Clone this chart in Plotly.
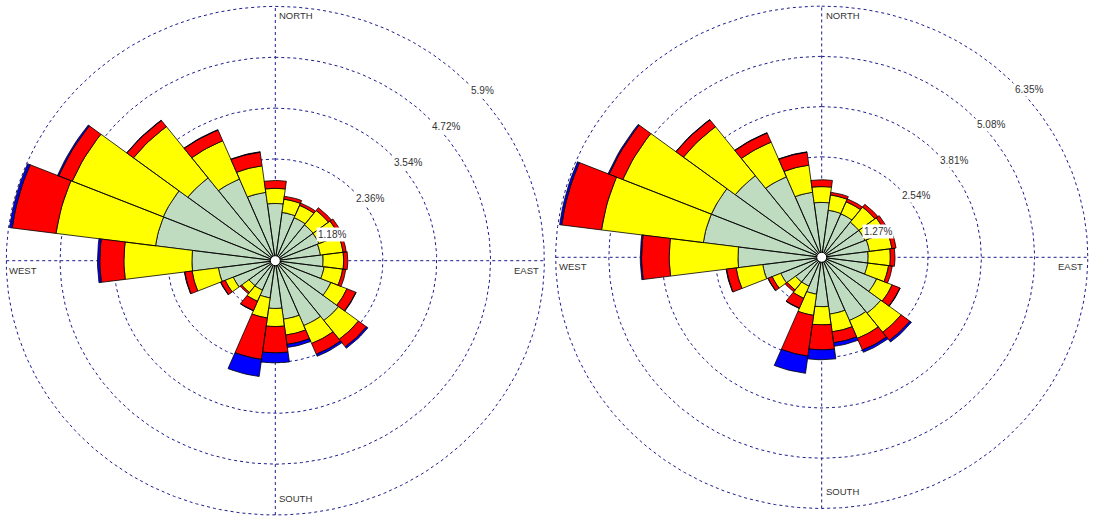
import numpy as np
import plotly.graph_objects as go

# 24 sectors of 15 degrees, compass bearings (clockwise from north)
directions = list(range(0, 360, 15))

# Frequency (%) per speed class, stacked from the centre outwards
left_c1 = [1.33, 1.13, 1.08, 1.05, 1.04, 1.00, 1.05, 1.08, 1.32, 1.75, 1.63, 1.37,
           1.11, 0.87, 0.74, 0.73, 1.00, 1.26, 1.83, 2.65, 2.66, 2.42, 2.05, 1.60]
left_c2 = [0.35, 0.31, 0.31, 0.42, 0.47, 0.50, 0.45, 0.41, 0.38, 0.55, 0.45, 0.37,
           0.42, 0.47, 0.28, 0.20, 0.19, 0.58, 1.49, 2.20, 2.16, 1.50, 0.96, 0.62]
left_c3 = [0.18, 0.07, 0.06, 0.08, 0.08, 0.07, 0.09, 0.07, 0.21, 0.22, 0.27, 0.22,
           0.61, 0.97, 0.23, 0.04, 0.10, 0.16, 0.53, 0.97, 0.32, 0.18, 0.27, 0.32]
left_c4 = [0.00, 0.00, 0.00, 0.00, 0.00, 0.00, 0.00, 0.00, 0.01, 0.04, 0.05, 0.07,
           0.23, 0.40, 0.01, 0.00, 0.01, 0.01, 0.05, 0.06, 0.03, 0.01, 0.01, 0.01]

right_c1 = [1.39, 1.20, 1.19, 1.12, 1.12, 1.15, 1.11, 1.11, 1.42, 1.78, 1.73, 1.45,
            1.25, 0.94, 0.79, 0.79, 1.06, 1.42, 2.00, 2.85, 2.85, 2.60, 2.20, 1.66]
right_c2 = [0.40, 0.39, 0.33, 0.48, 0.52, 0.54, 0.53, 0.50, 0.40, 0.61, 0.49, 0.45,
            0.46, 0.54, 0.33, 0.25, 0.22, 0.64, 1.64, 2.45, 2.29, 1.56, 0.95, 0.69]
right_c3 = [0.17, 0.07, 0.08, 0.09, 0.09, 0.10, 0.11, 0.09, 0.20, 0.26, 0.32, 0.28,
            0.63, 1.04, 0.27, 0.06, 0.10, 0.23, 0.66, 0.96, 0.35, 0.22, 0.25, 0.33]
right_c4 = [0.00, 0.00, 0.00, 0.00, 0.00, 0.00, 0.00, 0.00, 0.01, 0.05, 0.06, 0.09,
            0.25, 0.44, 0.01, 0.00, 0.01, 0.01, 0.03, 0.05, 0.03, 0.01, 0.01, 0.01]

left_rings = [1.18, 2.36, 3.54, 4.72, 5.9]
right_rings = [1.27, 2.54, 3.81, 5.08, 6.35]

class_colors = ["#C0DCC0", "#FFFF00", "#FF0000", "#0000FF"]
grid_color = "#1c1c8c"
text_color = "#333333"
font_family = "Liberation Sans, Arial, sans-serif"

HALF = 7.5  # half sector width in degrees


def sector_xy(bearing, r0, r1, n=9):
    a = np.radians(np.linspace(bearing - HALF, bearing + HALF, n))
    xs = list(r1 * np.sin(a))
    ys = list(r1 * np.cos(a))
    if r0 > 0:
        xs += list(r0 * np.sin(a[::-1]))
        ys += list(r0 * np.cos(a[::-1]))
    else:
        xs.append(0.0)
        ys.append(0.0)
    xs.append(xs[0])
    ys.append(ys[0])
    return xs, ys


def rose_traces(classes, xa, ya):
    traces = []
    base = np.zeros(len(directions))
    for vals, col in zip(classes, class_colors):
        vals = np.asarray(vals)
        X, Y = [], []
        for d, b, v in zip(directions, base, vals):
            if v <= 0:
                continue
            xs, ys = sector_xy(d, b, b + v)
            X += xs + [None]
            Y += ys + [None]
        traces.append(go.Scatter(
            x=X, y=Y, mode="lines", fill="toself", fillcolor=col,
            line=dict(color="#000000", width=0.8),
            xaxis=xa, yaxis=ya, hoverinfo="skip", showlegend=False))
        base = base + vals
    return traces


def grid_trace(rings, xa, ya):
    X, Y = [], []
    t = np.radians(np.linspace(0, 360, 361))
    for r in rings:
        X += list(r * np.sin(t)) + [None]
        Y += list(r * np.cos(t)) + [None]
    R = rings[-1]
    X += [0, 0, None, -R, R, None]
    Y += [-R, R, None, 0, 0, None]
    return go.Scatter(x=X, y=Y, mode="lines",
                      line=dict(color=grid_color, width=1, dash="3px,3px"),
                      xaxis=xa, yaxis=ya, hoverinfo="skip", showlegend=False)


def rose_annotations(rings, xa, ya):
    anns = []
    c45 = np.cos(np.radians(45))
    for r in rings:
        anns.append(dict(x=r * c45, y=r * c45, xref=xa, yref=ya, text=f"{r:g}%",
                         showarrow=False, xanchor="left", yanchor="middle",
                         xshift=3, yshift=-9.5, bgcolor="white", borderpad=1,
                         font=dict(size=10, color=text_color, family=font_family)))
    R = rings[-1]
    f = dict(size=9.5, color=text_color, family=font_family)
    anns += [
        dict(x=0, y=R, xref=xa, yref=ya, text="NORTH", showarrow=False,
             xanchor="left", yanchor="top", xshift=2, yshift=-2, font=f),
        dict(x=0, y=-R, xref=xa, yref=ya, text="SOUTH", showarrow=False,
             xanchor="left", yanchor="bottom", xshift=2, yshift=9, font=f),
        dict(x=R, y=0, xref=xa, yref=ya, text="EAST", showarrow=False,
             xanchor="right", yanchor="top", xshift=-3, yshift=-2, font=f),
        dict(x=-R, y=0, xref=xa, yref=ya, text="WEST", showarrow=False,
             xanchor="left", yanchor="top", xshift=1, yshift=-2, font=f),
    ]
    return anns


def centre_circle(xa, ya):
    return dict(type="circle", xref=xa, yref=ya, xsizemode="pixel", ysizemode="pixel",
                xanchor=0, yanchor=0, x0=-5, x1=5, y0=-5, y1=5,
                fillcolor="white", line=dict(color="#000000", width=1), layer="above")


fig = go.Figure()
fig.add_trace(grid_trace(left_rings, "x", "y"))
fig.add_trace(grid_trace(right_rings, "x2", "y2"))
for tr in rose_traces([left_c1, left_c2, left_c3, left_c4], "x", "y"):
    fig.add_trace(tr)
for tr in rose_traces([right_c1, right_c2, right_c3, right_c4], "x2", "y2"):
    fig.add_trace(tr)

W, H = 1094, 518
# pixel geometry of each rose: centre and pixels per percent (x, y)
L_CX, L_CY, L_SX, L_SY = 275.3, 260.7, 45.6, 43.1
R_CX, R_CY, R_SX, R_SY = 821.7, 257.3, 41.9, 39.55
split = 547

fig.update_layout(
    width=W, height=H, margin=dict(l=0, r=0, t=0, b=0),
    paper_bgcolor="white", plot_bgcolor="white", showlegend=False,
    xaxis=dict(domain=[0, split / W], range=[(0 - L_CX) / L_SX, (split - L_CX) / L_SX],
               visible=False, anchor="y"),
    yaxis=dict(domain=[0, 1], range=[(L_CY - H) / L_SY, L_CY / L_SY],
               visible=False, anchor="x"),
    xaxis2=dict(domain=[split / W, 1], range=[(split - R_CX) / R_SX, (W - R_CX) / R_SX],
                visible=False, anchor="y2"),
    yaxis2=dict(domain=[0, 1], range=[(R_CY - H) / R_SY, R_CY / R_SY],
                visible=False, anchor="x2"),
    annotations=rose_annotations(left_rings, "x", "y") + rose_annotations(right_rings, "x2", "y2"),
    shapes=[centre_circle("x", "y"), centre_circle("x2", "y2")],
)

fig.write_html("out.html")
